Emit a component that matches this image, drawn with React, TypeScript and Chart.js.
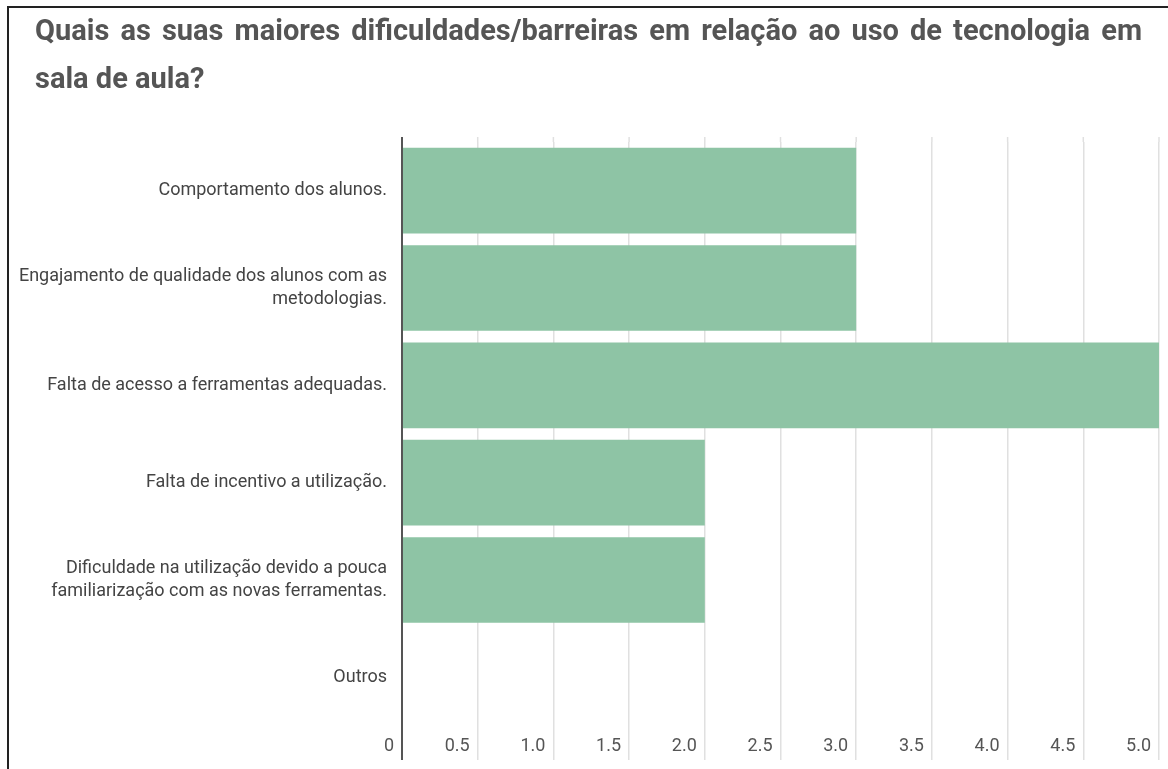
import React, { useEffect, useRef } from "react";
import { Chart, registerables } from "chart.js";

Chart.register(...registerables);

const titleLines = [
  "Quais as suas maiores dificuldades/barreiras em relação ao uso de tecnologia em",
  "sala de aula?",
];

const categories: (string | string[])[] = [
  "Comportamento dos alunos.",
  ["Engajamento de qualidade dos alunos com as", "metodologias."],
  "Falta de acesso a ferramentas adequadas.",
  "Falta de incentivo a utilização.",
  ["Dificuldade na utilização devido a pouca", "familiarização com as novas ferramentas."],
  "Outros",
];

const values = [3, 3, 5, 2, 2, 0];

const xMin = 0;
const xMax = 5;
const xStep = 0.5;

// Title drawn justified (first line) like the original document
const justifiedTitle = {
  id: "justifiedTitle",
  afterDraw(chart: any) {
    const { ctx } = chart;
    const left = 35;
    const right = 1142;
    const baselines = [40, 88];
    ctx.save();
    ctx.font = "bold 29px Roboto";
    ctx.fillStyle = "#555555";
    ctx.textBaseline = "alphabetic";
    ctx.textAlign = "left";
    titleLines.forEach((line, i) => {
      const y = baselines[i];
      if (i < titleLines.length - 1) {
        const words = line.split(" ");
        const widths = words.map((w) => ctx.measureText(w).width);
        const total = widths.reduce((a, b) => a + b, 0);
        const gap = (right - left - total) / (words.length - 1);
        let x = left;
        words.forEach((w, j) => {
          ctx.fillText(w, x, y);
          x += widths[j] + gap;
        });
      } else {
        ctx.fillText(line, left, y);
      }
    });
    ctx.restore();
  },
};

const axisExtend = {
  id: "axisExtend",
  afterDraw(chart: any) {
    const { ctx, chartArea, scales } = chart;
    const x = scales.x;
    ctx.save();
    ctx.strokeStyle = "#e0e0e0";
    ctx.lineWidth = 1.5;
    x.ticks.forEach((t: any) => {
      if (t.value === 0) return;
      const px = x.getPixelForValue(t.value);
      ctx.beginPath();
      ctx.moveTo(px, chartArea.top - 5);
      ctx.lineTo(px, chartArea.top);
      ctx.stroke();
    });
    const px0 = x.getPixelForValue(0);
    ctx.strokeStyle = "#555555";
    ctx.lineWidth = 2;
    ctx.beginPath();
    ctx.moveTo(px0, chartArea.top - 5);
    ctx.lineTo(px0, chartArea.bottom + 34);
    ctx.stroke();
    ctx.restore();
  },
};

export default function App() {
  const ref = useRef<HTMLCanvasElement>(null);

  useEffect(() => {
    if (!ref.current) return;
    const chart = new Chart(ref.current, {
      type: "bar",
      data: {
        labels: categories,
        datasets: [
          {
            data: values,
            backgroundColor: "#8ec4a5",
            borderWidth: 0,
            barPercentage: 0.88,
            categoryPercentage: 1,
          },
        ],
      },
      options: {
        indexAxis: "y",
        animation: false,
        responsive: false,
        devicePixelRatio: 1,
        layout: { padding: { left: 10, right: 9, top: 142, bottom: 0 } },
        plugins: {
          legend: { display: false },
          tooltip: { enabled: false },
          title: { display: false },
        },
        scales: {
          y: {
            type: "category",
            position: "left",
            grid: { display: false, drawTicks: false },
            border: { display: false },
            ticks: {
              color: "#444444",
              font: { family: "Roboto", size: 18, lineHeight: 1.25 },
              padding: 15,
            },
            afterFit: (scale: any) => {
              scale.width = 392;
            },
          },
          x: {
            type: "linear",
            position: "bottom",
            min: xMin,
            max: xMax,
            grid: {
              color: "#e0e0e0",
              lineWidth: 1.5,
              drawTicks: true,
              tickLength: 34,
              tickColor: "#e0e0e0",
            },
            border: { display: false },
            ticks: {
              stepSize: xStep,
              align: "end",
              labelOffset: -8,
              padding: -24,
              color: "#555555",
              font: { family: "Roboto", size: 18, lineHeight: 1.2 },
              callback: (v: any) => (Number(v) === 0 ? "0" : Number(v).toFixed(1)),
            },
            afterFit: (scale: any) => {
              scale.height = 43;
            },
          },
        },
      },
      plugins: [justifiedTitle, axisExtend],
    });
    return () => chart.destroy();
  }, []);

  return (
    <div
      style={{
        position: "fixed",
        top: 0,
        left: 0,
        width: 1168,
        height: 769,
        overflow: "hidden",
        background: "#ffffff",
      }}
    >
      <div
        style={{
          position: "absolute",
          left: 7,
          top: 6,
          width: 2000,
          height: 2000,
          borderTop: "2px solid #222222",
          borderLeft: "2px solid #222222",
        }}
      />
      <canvas
        ref={ref}
        width={1168}
        height={769}
        style={{ position: "absolute", left: 0, top: 0, width: 1168, height: 769 }}
      />
    </div>
  );
}
